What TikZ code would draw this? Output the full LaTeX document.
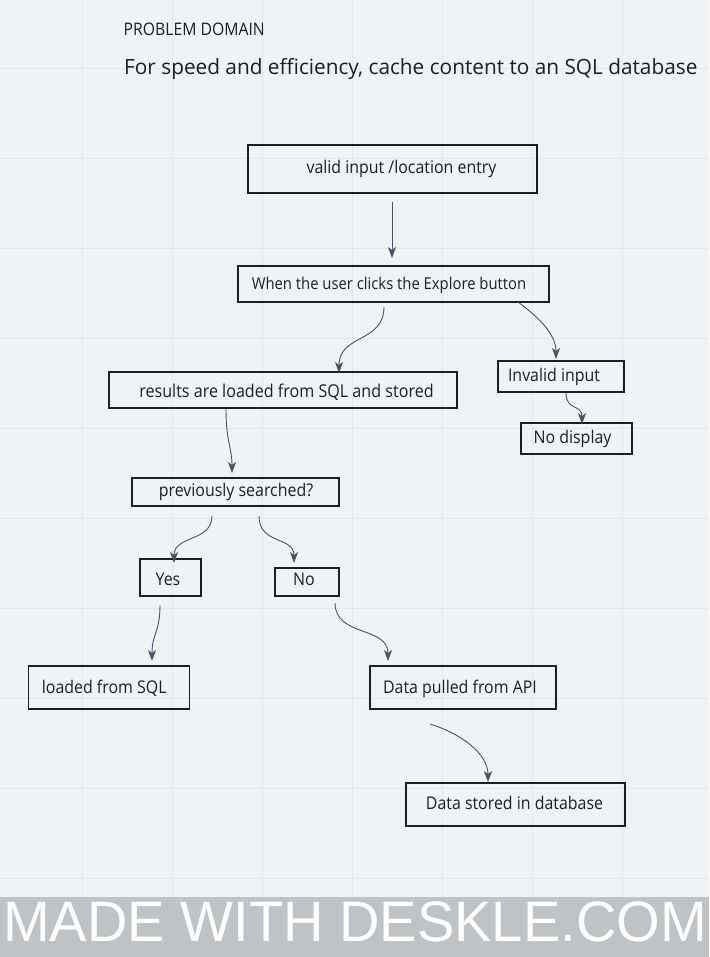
\documentclass[tikz,border=0pt]{standalone}
\usepackage{fontspec}
\setmainfont{Open Sans}
\newfontfamily\bodyfont[FakeStretch=0.91]{Open Sans}
\newfontfamily\headfont[FakeStretch=0.91]{Open Sans}
\newfontfamily\titlefont[FakeStretch=0.99]{Open Sans}
\newfontfamily\bannerfont[FakeStretch=0.983]{Liberation Sans}
\usetikzlibrary{arrows.meta}
\definecolor{bg}{HTML}{F0F3F6}
\definecolor{gridc}{HTML}{E3E7EB}
\definecolor{bannerc}{HTML}{BBBEC1}
\definecolor{edgec}{HTML}{4B5167}
\definecolor{ink}{HTML}{1E1E1E}
\tikzset{
  box/.style={draw=ink, line width=1.2pt, inner sep=0pt, rectangle},
  lbl/.style={text=ink, inner sep=0pt, anchor=base, font=\bodyfont\fontsize{17.5}{20}\selectfont},
  conn/.style={draw=edgec, line width=0.9pt, -{Stealth[length=11pt,width=8pt,inset=3pt]}},
}
\begin{document}
\begin{tikzpicture}[x=1pt,y=-1pt]
\useasboundingbox (0,0) rectangle (709,957);
\fill[bg] (0,0) rectangle (709,957);
% grid
\foreach \gx in {82,172,...,712} \draw[gridc, line width=0.8pt] (\gx,0) -- (\gx,957);
\foreach \gy in {68,158,...,878} \draw[gridc, line width=0.8pt] (0,\gy) -- (709,\gy);
% banner
\fill[bannerc, fill opacity=0.9] (0,897) rectangle (709,957);
\node[anchor=base west, inner sep=0pt, text=white, font=\bannerfont\fontsize{57}{60}\selectfont] (banner) at (3,941) {MADE WITH DESKLE.COM};

% headings
\node[anchor=base west, inner sep=0pt, text=ink, font=\headfont\fontsize{17.3}{20}\selectfont] (head) at (123.5,35.7) {PROBLEM DOMAIN};
\node[anchor=base west, inner sep=0pt, text=ink, font=\titlefont\fontsize{21}{24}\selectfont] (title) at (124,75) {For speed and efficiency, cache content to an SQL database};

% boxes
\node[box, minimum width=289pt, minimum height=48pt] (b1) at (392.5,169) {};
\node[box, minimum width=311pt, minimum height=36pt] (b2) at (393.5,284) {};
\node[box, minimum width=348pt, minimum height=36pt] (b3) at (283,390) {};
\node[box, minimum width=126pt, minimum height=31pt] (b4) at (561,376.5) {};
\node[box, minimum width=111pt, minimum height=31pt] (b5) at (576.5,438.5) {};
\node[box, minimum width=207pt, minimum height=28pt] (b6) at (235.5,492) {};
\node[box, minimum width=61pt, minimum height=37pt] (b7) at (170.5,577.5) {};
\node[box, minimum width=64pt, minimum height=28pt] (b8) at (307,582) {};
\node[box, minimum width=161pt, minimum height=43pt] (b9) at (109,687.5) {};
\node[box, minimum width=186pt, minimum height=43pt] (b10) at (463,687.5) {};
\node[box, minimum width=219pt, minimum height=43pt] (b11) at (515.5,804.5) {};

% labels
\node[lbl] (t1) at (401.5,173.3) {valid input /location entry};
\node[lbl, font=\bodyfont\fontsize{16.3}{19}\selectfont] (t2) at (389,289) {When the user clicks the Explore button};
\node[lbl, font=\bodyfont\fontsize{17.7}{20}\selectfont] (t3) at (286.5,397.8) {results are loaded from SQL and stored};
\node[lbl] (t4) at (554,381.8) {Invalid input};
\node[lbl] (t5) at (572.5,443.8) {No display};
\node[lbl] (t6) at (236,496.8) {previously searched?};
\node[lbl] (t7) at (168,585.5) {Yes};
\node[lbl] (t8) at (304,585.5) {No};
\node[lbl] (t9) at (104.2,693.3) {loaded from SQL};
\node[lbl] (t10) at (460,693.5) {Data pulled from API};
\node[lbl] (t11) at (514.5,809.8) {Data stored in database};

% connector end points
\coordinate (a1s) at (392,202);  \coordinate (a1e) at (392,258);
\coordinate (a2s) at (384,307);  \coordinate (a2e) at (339,373);
\coordinate (a3s) at (518,302);  \coordinate (a3e) at (556,359);
\coordinate (a4s) at (566,393);  \coordinate (a4e) at (582,424);
\coordinate (a5s) at (226,409);  \coordinate (a5e) at (232,473);
\coordinate (a6s) at (212,516);  \coordinate (a6e) at (174,563);
\coordinate (a7s) at (259,516);  \coordinate (a7e) at (294,563);
\coordinate (a8s) at (160,605);  \coordinate (a8e) at (152,661);
\coordinate (a9s) at (335,603);  \coordinate (a9e) at (388,661);
\coordinate (a10s) at (430,724); \coordinate (a10e) at (488,782);

% connectors
\draw[conn] (a1s) -- (a1e);
\draw[conn] (a2s) .. controls (384,343) and (339,334) .. (a2e);
\draw[conn] (a3s) .. controls (534,314) and (556,332) .. (a3e);
\draw[conn] (a4s) .. controls (566,411) and (582,404) .. (a4e);
\draw[conn] (a5s) .. controls (226,442) and (232,448) .. (a5e);
\draw[conn] (a6s) .. controls (212,542) and (174,535) .. (a6e);
\draw[conn] (a7s) .. controls (259,545) and (294,536) .. (a7e);
\draw[conn] (a8s) .. controls (160,632) and (152,634) .. (a8e);
\draw[conn] (a9s) .. controls (335,637) and (388,626) .. (a9e);
\draw[conn] (a10s) .. controls (462,734) and (488,754) .. (a10e);
\end{tikzpicture}
\end{document}
